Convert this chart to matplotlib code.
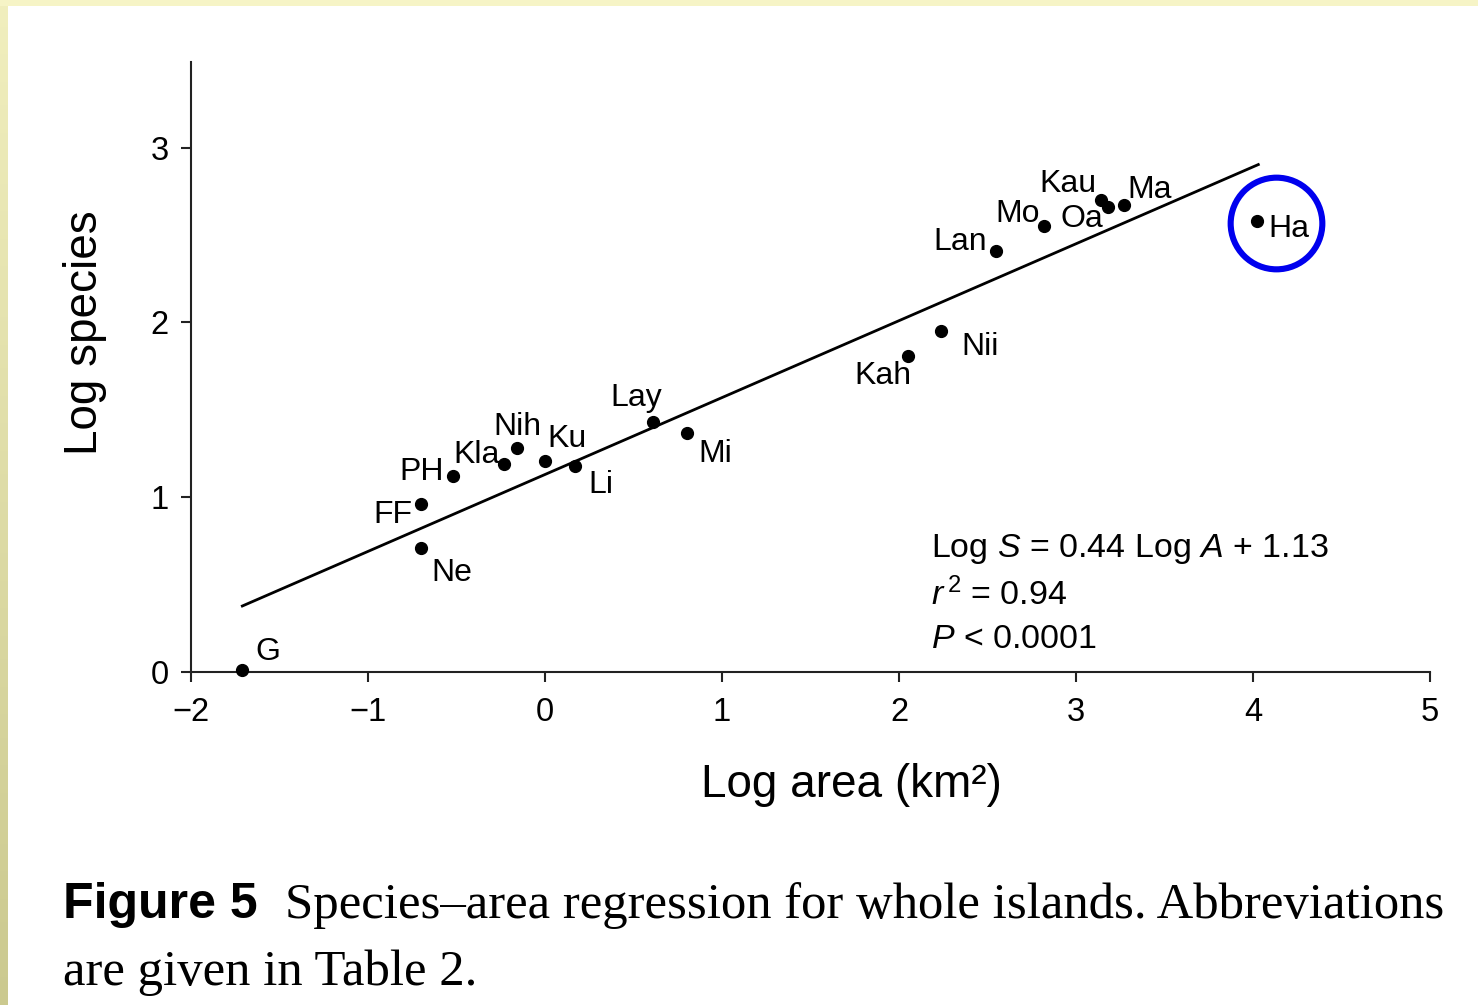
import numpy as np
import matplotlib
matplotlib.use("Agg")
import matplotlib.pyplot as plt
from matplotlib.patches import Rectangle
from matplotlib.colors import LinearSegmentedColormap

# ---------------- data ----------------
islands = ["G", "Ne", "FF", "PH", "Kla", "Nih", "Ku", "Li", "Lay", "Mi",
           "Kah", "Nii", "Lan", "Mo", "Kau", "Oa", "Ma", "Ha"]
log_area = [-1.71, -0.70, -0.70, -0.52, -0.23, -0.16, 0.00, 0.17, 0.61, 0.80,
            2.05, 2.24, 2.55, 2.82, 3.14, 3.18, 3.27, 4.02]
log_species = [0.01, 0.71, 0.96, 1.12, 1.19, 1.28, 1.21, 1.18, 1.43, 1.37,
               1.81, 1.95, 2.41, 2.55, 2.70, 2.66, 2.67, 2.58]
slope = 0.44
intercept = 1.13
fit_range = [-1.71, 4.03]
x_ticks = [-2, -1, 0, 1, 2, 3, 4, 5]
y_ticks = [0, 1, 2, 3]
highlight = "Ha"

# label placement (ha, dx px, dy px to baseline)
label_style = {
    "G": ("left", 13, 10), "Ne": ("left", 10, -33), "FF": ("right", -9, -19),
    "PH": ("right", -9, -4), "Kla": ("right", -5, 1), "Nih": ("center", 1, 13),
    "Ku": ("left", 2, 14), "Li": ("left", 13, -27), "Lay": ("right", 9, 16),
    "Mi": ("left", 12, -29), "Kah": ("right", 4, -28), "Nii": ("left", 20, -24),
    "Lan": ("right", -9, 1), "Mo": ("right", -4, 4), "Kau": ("right", -4, 8),
    "Oa": ("right", -5, -20), "Ma": ("left", 4, 7), "Ha": ("left", 12, -16),
}

plt.rcParams["font.family"] = ["Liberation Sans", "DejaVu Sans"]
plt.rcParams["mathtext.fontset"] = "custom"
plt.rcParams["mathtext.rm"] = "Liberation Sans"
plt.rcParams["mathtext.it"] = "Liberation Sans:italic"
plt.rcParams["mathtext.bf"] = "Liberation Sans:bold"

W, H = 1478, 1005
fig = plt.figure(figsize=(W / 100, H / 100), dpi=100, facecolor="white")

# yellow frame bands
top_h = 6
left_w = 8
fig.patches.append(Rectangle((0, 1 - top_h / H), 1, top_h / H, transform=fig.transFigure,
                             facecolor="#f6f4c6", edgecolor="none", zorder=0))
band = fig.add_axes([0, 0, left_w / W, 1])
grad = np.linspace(0, 1, 256).reshape(-1, 1)
cm = LinearSegmentedColormap.from_list("band", ["#f1efbe", "#cbc98f"])
band.imshow(grad, aspect="auto", cmap=cm, extent=[0, 1, 0, 1], origin="upper")
band.set_axis_off()

ax = fig.add_axes([191 / W, 1 - 672 / H, (1430 - 191) / W, (672 - 62) / H])
ax.set_xlim(-2, 5)
ax.set_ylim(0, 3.49)
for s in ["top", "right"]:
    ax.spines[s].set_visible(False)
for s in ["left", "bottom"]:
    ax.spines[s].set_linewidth(1.5)
    ax.spines[s].set_color("#222222")
ax.set_xticks(x_ticks)
ax.set_yticks(y_ticks)
ax.set_xticklabels(["\u2212" + str(-t) if t < 0 else str(t) for t in x_ticks])
ax.tick_params(axis="both", direction="out", length=7, width=1.5, color="#222222",
               labelsize=23.5)
ax.tick_params(axis="x", pad=11)
ax.tick_params(axis="y", pad=9)

# regression line
fx = np.array(fit_range)
ax.plot(fx, slope * fx + intercept, color="black", lw=2.0, zorder=2)

# points
ax.plot(log_area, log_species, "o", color="black", ms=8.5, zorder=3, clip_on=False)

for name, x, y in zip(islands, log_area, log_species):
    ha, dx, dy = label_style[name]
    ax.annotate(name, (x, y), xytext=(dx, dy), textcoords="offset pixels",
                ha=ha, va="baseline", fontsize=23, color="black")

# highlight circle
hi = islands.index(highlight)
ax.plot(log_area[hi] + 0.11, log_species[hi] - 0.01, "o", mfc="none", mec="#0000ee",
        ms=66, mew=4.4, clip_on=False, zorder=4)

# equation
fig.text(931 / W, 1 - 557 / H, r"Log $S$ = 0.44 Log $A$ + 1.13", fontsize=24.5,
         va="baseline", ha="left")
fig.text(931 / W, 1 - 605 / H, r"$r^{\,2}$ = 0.94", fontsize=24.5, va="baseline", ha="left")
fig.text(931 / W, 1 - 648 / H, r"$P$ < 0.0001", fontsize=24.5, va="baseline", ha="left")

# axis labels
fig.text(851 / W, 1 - 797 / H, "Log area (km\u00b2)", fontsize=33, ha="center",
         va="baseline")
fig.text(85 / W, 1 - 333 / H, "Log species", fontsize=33, ha="center", va="center",
         rotation=90)

# caption
fig.text(63 / W, 1 - 918 / H, "Figure 5", fontsize=36, fontweight="bold",
         family=["Liberation Sans"], ha="left", va="baseline")
fig.text(285 / W, 1 - 918 / H, "Species\u2013area regression for whole islands. Abbreviations",
         fontsize=36.5, family=["Liberation Serif"], ha="left", va="baseline")
fig.text(63 / W, 1 - 985 / H, "are given in Table 2.", fontsize=36.5,
         family=["Liberation Serif"], ha="left", va="baseline")

fig.savefig("out.png", dpi=100, facecolor="white")
